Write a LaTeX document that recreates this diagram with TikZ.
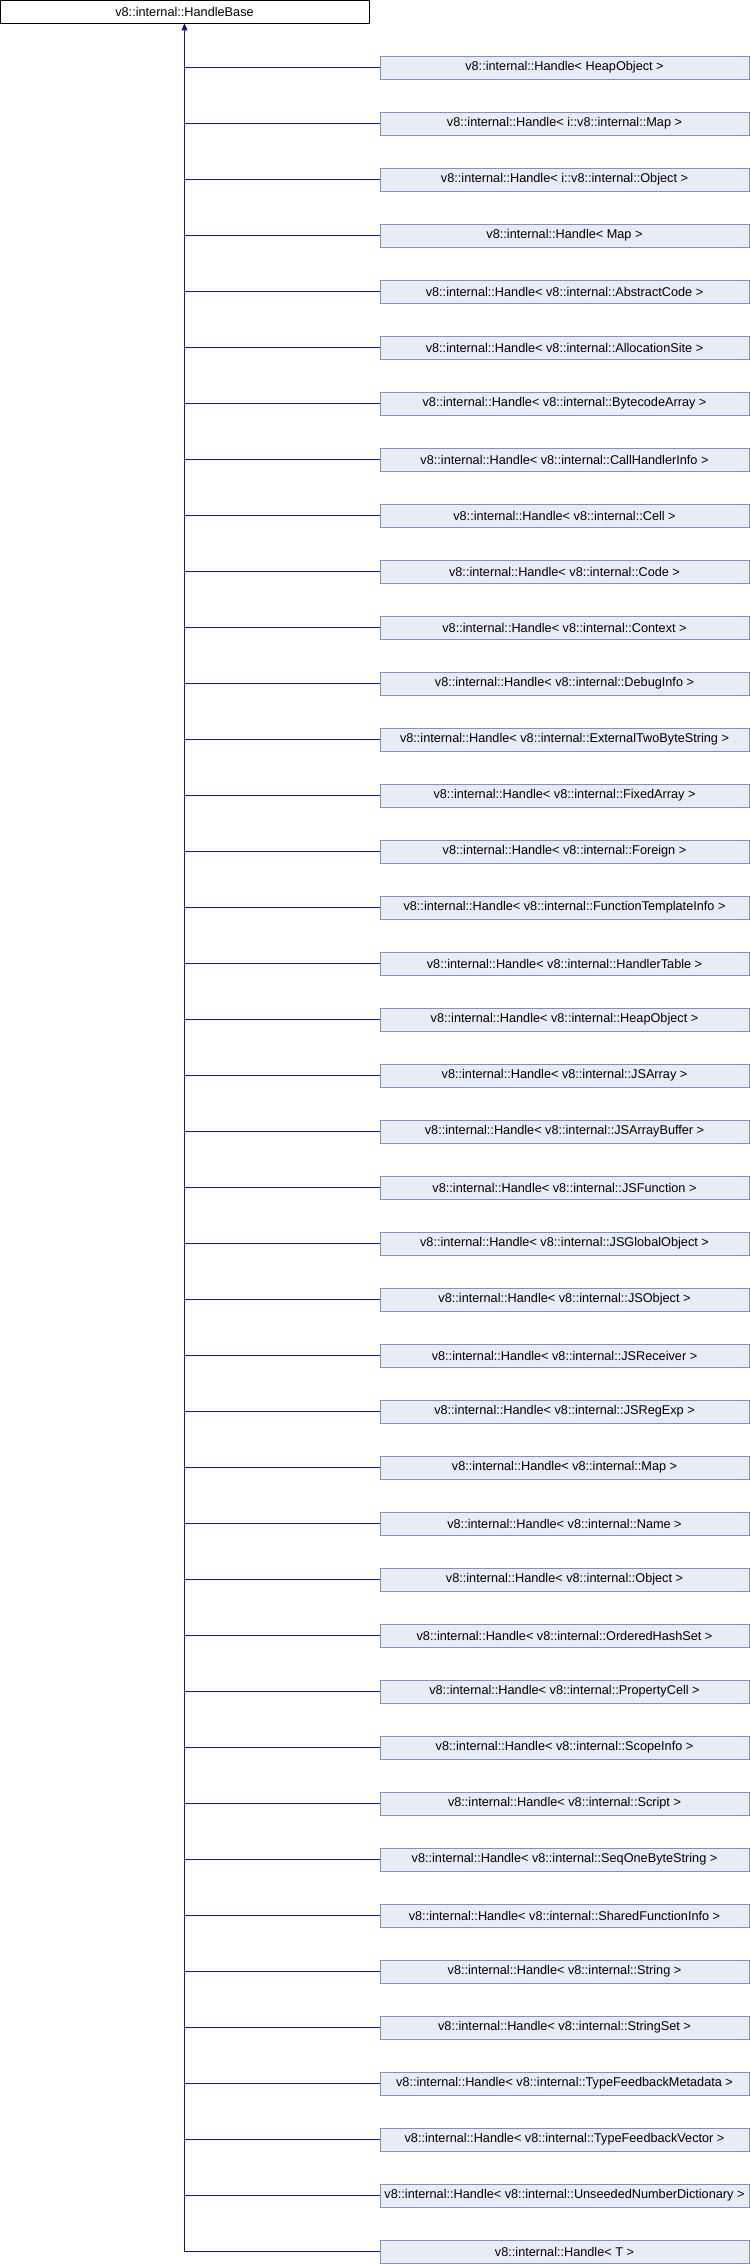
\documentclass[tikz,border=0pt]{standalone}
\usepackage{fontspec}
\setmainfont{Liberation Sans}
\usepackage{tikz}
\usetikzlibrary{arrows.meta}
\usepackage{xcolor}
\definecolor{boxfill}{RGB}{232,236,245}
\definecolor{boxline}{RGB}{124,147,200}
\definecolor{linkcol}{RGB}{20,20,140}

\tikzset{
  baseclass/.style={draw=black, fill=white, line width=0.8pt, minimum width=369pt, minimum height=23pt, inner sep=0pt, font=\fontsize{12.7}{14}\selectfont},
  subclass/.style={draw=boxline, fill=boxfill, line width=0.9pt, minimum width=369pt, minimum height=23pt, inner sep=0pt, font=\fontsize{12.7}{14}\selectfont},
  link/.style={draw=linkcol, line width=1.1pt}
}

\begin{document}
\begin{tikzpicture}[x=1pt, y=1pt]
        \useasboundingbox (0,0) rectangle (750,-2264);
        \node[baseclass](B) at (184.5, -11.5) {v8::internal::HandleBase};

        \node[subclass](C1) at (564.5, -67.5) {v8::internal::Handle< HeapObject >};
        \node[subclass](C2) at (564.5, -123.5) {v8::internal::Handle< i::v8::internal::Map >};
        \node[subclass](C3) at (564.5, -179.5) {v8::internal::Handle< i::v8::internal::Object >};
        \node[subclass](C4) at (564.5, -235.5) {v8::internal::Handle< Map >};
        \node[subclass](C5) at (564.5, -291.5) {v8::internal::Handle< v8::internal::AbstractCode >};
        \node[subclass](C6) at (564.5, -347.5) {v8::internal::Handle< v8::internal::AllocationSite >};
        \node[subclass](C7) at (564.5, -403.5) {v8::internal::Handle< v8::internal::BytecodeArray >};
        \node[subclass](C8) at (564.5, -459.5) {v8::internal::Handle< v8::internal::CallHandlerInfo >};
        \node[subclass](C9) at (564.5, -515.5) {v8::internal::Handle< v8::internal::Cell >};
        \node[subclass](C10) at (564.5, -571.5) {v8::internal::Handle< v8::internal::Code >};
        \node[subclass](C11) at (564.5, -627.5) {v8::internal::Handle< v8::internal::Context >};
        \node[subclass](C12) at (564.5, -683.5) {v8::internal::Handle< v8::internal::DebugInfo >};
        \node[subclass](C13) at (564.5, -739.5) {v8::internal::Handle< v8::internal::ExternalTwoByteString >};
        \node[subclass](C14) at (564.5, -795.5) {v8::internal::Handle< v8::internal::FixedArray >};
        \node[subclass](C15) at (564.5, -851.5) {v8::internal::Handle< v8::internal::Foreign >};
        \node[subclass](C16) at (564.5, -907.5) {v8::internal::Handle< v8::internal::FunctionTemplateInfo >};
        \node[subclass](C17) at (564.5, -963.5) {v8::internal::Handle< v8::internal::HandlerTable >};
        \node[subclass](C18) at (564.5, -1019.5) {v8::internal::Handle< v8::internal::HeapObject >};
        \node[subclass](C19) at (564.5, -1075.5) {v8::internal::Handle< v8::internal::JSArray >};
        \node[subclass](C20) at (564.5, -1131.5) {v8::internal::Handle< v8::internal::JSArrayBuffer >};
        \node[subclass](C21) at (564.5, -1187.5) {v8::internal::Handle< v8::internal::JSFunction >};
        \node[subclass](C22) at (564.5, -1243.5) {v8::internal::Handle< v8::internal::JSGlobalObject >};
        \node[subclass](C23) at (564.5, -1299.5) {v8::internal::Handle< v8::internal::JSObject >};
        \node[subclass](C24) at (564.5, -1355.5) {v8::internal::Handle< v8::internal::JSReceiver >};
        \node[subclass](C25) at (564.5, -1411.5) {v8::internal::Handle< v8::internal::JSRegExp >};
        \node[subclass](C26) at (564.5, -1467.5) {v8::internal::Handle< v8::internal::Map >};
        \node[subclass](C27) at (564.5, -1523.5) {v8::internal::Handle< v8::internal::Name >};
        \node[subclass](C28) at (564.5, -1579.5) {v8::internal::Handle< v8::internal::Object >};
        \node[subclass](C29) at (564.5, -1635.5) {v8::internal::Handle< v8::internal::OrderedHashSet >};
        \node[subclass](C30) at (564.5, -1691.5) {v8::internal::Handle< v8::internal::PropertyCell >};
        \node[subclass](C31) at (564.5, -1747.5) {v8::internal::Handle< v8::internal::ScopeInfo >};
        \node[subclass](C32) at (564.5, -1803.5) {v8::internal::Handle< v8::internal::Script >};
        \node[subclass](C33) at (564.5, -1859.5) {v8::internal::Handle< v8::internal::SeqOneByteString >};
        \node[subclass](C34) at (564.5, -1915.5) {v8::internal::Handle< v8::internal::SharedFunctionInfo >};
        \node[subclass](C35) at (564.5, -1971.5) {v8::internal::Handle< v8::internal::String >};
        \node[subclass](C36) at (564.5, -2027.5) {v8::internal::Handle< v8::internal::StringSet >};
        \node[subclass](C37) at (564.5, -2083.5) {v8::internal::Handle< v8::internal::TypeFeedbackMetadata >};
        \node[subclass](C38) at (564.5, -2139.5) {v8::internal::Handle< v8::internal::TypeFeedbackVector >};
        \node[subclass](C39) at (564.5, -2195.5) {v8::internal::Handle< v8::internal::UnseededNumberDictionary >};
        \node[subclass](C40) at (564.5, -2251.5) {v8::internal::Handle< T >};

        \draw[link, -{Triangle[length=7pt, width=6pt]}] (C40.west -| B.south) -- (B.south);
        \draw[link] (C1.west) -- (C1.west -| B.south) (C2.west) -- (C2.west -| B.south)
                    (C3.west) -- (C3.west -| B.south) (C4.west) -- (C4.west -| B.south)
                    (C5.west) -- (C5.west -| B.south) (C6.west) -- (C6.west -| B.south)
                    (C7.west) -- (C7.west -| B.south) (C8.west) -- (C8.west -| B.south)
                    (C9.west) -- (C9.west -| B.south) (C10.west) -- (C10.west -| B.south)
                    (C11.west) -- (C11.west -| B.south) (C12.west) -- (C12.west -| B.south)
                    (C13.west) -- (C13.west -| B.south) (C14.west) -- (C14.west -| B.south)
                    (C15.west) -- (C15.west -| B.south) (C16.west) -- (C16.west -| B.south)
                    (C17.west) -- (C17.west -| B.south) (C18.west) -- (C18.west -| B.south)
                    (C19.west) -- (C19.west -| B.south) (C20.west) -- (C20.west -| B.south)
                    (C21.west) -- (C21.west -| B.south) (C22.west) -- (C22.west -| B.south)
                    (C23.west) -- (C23.west -| B.south) (C24.west) -- (C24.west -| B.south)
                    (C25.west) -- (C25.west -| B.south) (C26.west) -- (C26.west -| B.south)
                    (C27.west) -- (C27.west -| B.south) (C28.west) -- (C28.west -| B.south)
                    (C29.west) -- (C29.west -| B.south) (C30.west) -- (C30.west -| B.south)
                    (C31.west) -- (C31.west -| B.south) (C32.west) -- (C32.west -| B.south)
                    (C33.west) -- (C33.west -| B.south) (C34.west) -- (C34.west -| B.south)
                    (C35.west) -- (C35.west -| B.south) (C36.west) -- (C36.west -| B.south)
                    (C37.west) -- (C37.west -| B.south) (C38.west) -- (C38.west -| B.south)
                    (C39.west) -- (C39.west -| B.south) (C40.west) -- (C40.west -| B.south);
      \end{tikzpicture}
\end{document}
